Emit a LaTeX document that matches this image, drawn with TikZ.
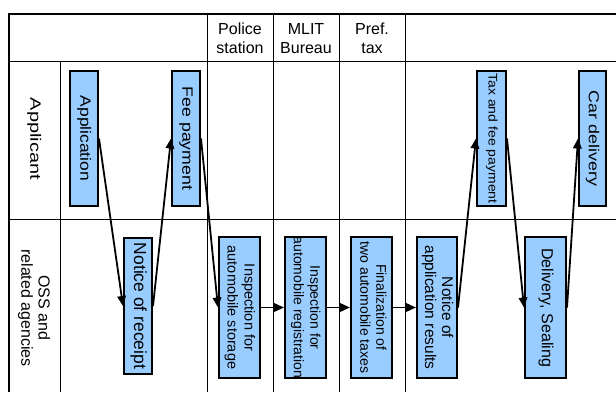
\documentclass[tikz,border=0pt]{standalone}
\usepackage{fontspec}
\setmainfont{Liberation Sans}
\usepackage{graphicx}
\usetikzlibrary{arrows.meta}
\definecolor{boxblue}{HTML}{99CCFF}
% #1 font size, #2 baselineskip, #3 stretch along text, #4 text
\newcommand{\vtxt}[4]{\fontsize{#1}{#2}\selectfont\scalebox{#3}[1]{\begin{tabular}{@{}c@{}}#4\end{tabular}}}
\begin{document}
\begin{tikzpicture}[x=1pt,y=-1pt,
  box/.style={draw=black, line width=2.3pt, fill=boxblue, inner sep=0pt},
  vt/.style={rotate=-90, inner sep=0pt, anchor=center},
  grid/.style={line width=1pt, draw=black},
  thick frame/.style={line width=2.2pt, draw=black},
  flow/.style={line width=1.8pt, -{Triangle[length=10pt,width=8.5pt]}},
  head/.style={align=center, inner sep=0pt, font=\fontsize{16}{18.5}\selectfont}]
\clip (0,0) rectangle (616,392);
\fill[white] (0,0) rectangle (616,392);
% table
\draw[grid] (9,61) -- (616,61);
\draw[grid] (9,219) -- (616,219);
\draw[grid] (60,61) -- (60,392);
\draw[grid] (207,14) -- (207,392);
\draw[grid] (273,14) -- (273,392);
\draw[grid] (339,14) -- (339,392);
\draw[grid] (405,14) -- (405,392);
\draw[thick frame] (616,14) -- (9,14) -- (9,392);
% headers
\node[head] (hpol) at (240,38.5) {Police\\station};
\node[head] (hmlit) at (306,38.5) {MLIT\\Bureau};
\node[head] (hpref) at (372,38.5) {Pref.\\tax};
% row labels
\node[vt] (rapp) at (34,139) {\vtxt{15}{18}{1.33}{Applicant}};
\node[vt] (ross) at (33.5,308) {\vtxt{16}{17.5}{1}{OSS and\\related agencies}};
% boxes
\node[box, minimum width=27.7pt, minimum height=134.7pt] (app) at (84,138.5) {};
\node[box, minimum width=27.7pt, minimum height=134.7pt] (fee) at (186,138.5) {};
\node[box, minimum width=28.7pt, minimum height=134.7pt] (tax) at (491.5,138.5) {};
\node[box, minimum width=26.7pt, minimum height=134.7pt] (car) at (592.5,138.5) {};
\node[box, minimum width=27.7pt, minimum height=135.7pt] (rec) at (138,306) {};
\node[box, minimum width=40.7pt, minimum height=140.7pt] (sto) at (239.5,307.5) {};
\node[box, minimum width=40.7pt, minimum height=140.7pt] (reg) at (305.5,307.5) {};
\node[box, minimum width=40.7pt, minimum height=140.7pt] (fin) at (371.5,307.5) {};
\node[box, minimum width=39.7pt, minimum height=140.7pt] (res) at (437,307.5) {};
\node[box, minimum width=40.7pt, minimum height=140.7pt] (del) at (545.5,307.5) {};
% box texts
\node[vt] (appt) at (app) {\vtxt{15}{18}{1.16}{Application}};
\node[vt] (feet) at (fee) {\vtxt{15}{18}{1.18}{Fee payment}};
\node[vt] (taxt) at (tax) {\vtxt{12.5}{15}{1.12}{Tax and fee payment}};
\node[vt] (cart) at (car) {\vtxt{14.5}{18}{1.23}{Car delivery}};
\node[vt] (rect) at (rec) {\vtxt{17.5}{20}{1}{Notice of receipt}};
\node[vt] (stot) at (sto) {\vtxt{14.5}{17}{1}{Inspection for\\automobile storage}};
\node[vt] (regt) at (reg) {\vtxt{14}{16.5}{1}{Inspection for\\automobile registration}};
\node[vt] (fint) at (fin) {\vtxt{14}{16}{1}{Finalization of\\two automobile taxes}};
\node[vt] (rest) at (res) {\vtxt{15.5}{17}{1}{Notice of\\application results}};
\node[vt] (delt) at (del) {\vtxt{16}{18}{1}{Delivery, Sealing}};
% connectors
\draw[flow] (app.east) -- (rec.west);
\draw[flow] (rec.east) -- (fee.west);
\draw[flow] (fee.east) -- (sto.west);
\draw[flow] (sto.east) -- (reg.west);
\draw[flow] (reg.east) -- (fin.west);
\draw[flow] (fin.east) -- (res.west);
\draw[flow] (res.east) -- (tax.west);
\draw[flow] (tax.east) -- (del.west);
\draw[flow] (del.east) -- (car.west);
\end{tikzpicture}
\end{document}
